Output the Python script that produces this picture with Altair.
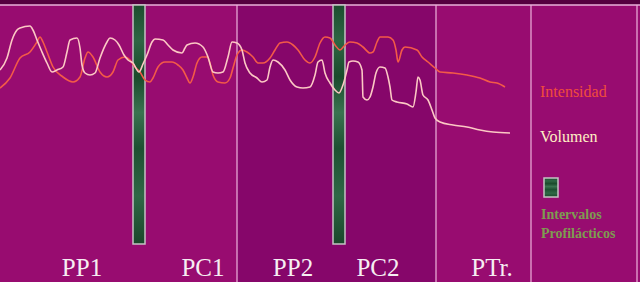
import altair as alt
import pandas as pd

# --- data ---
vol_x = [0, 7, 12, 17, 20, 30, 33, 37, 42, 47, 52, 57, 63, 67, 70, 77, 80, 82, 85, 90, 95, 100, 107, 110, 115, 119, 124, 128, 133, 139, 143, 147, 152, 155, 163, 168, 173, 182, 185, 187, 195, 203, 208, 213, 218, 223, 228, 232, 237, 242, 245, 250, 257, 262, 267, 270, 273, 278, 285, 290, 297, 303, 310, 315, 318, 322, 325, 330, 335, 339, 343, 347, 349, 353, 358, 362, 363, 367, 370, 373, 376, 380, 385, 388, 390, 392, 397, 407, 413, 416, 418, 420, 423, 428, 432, 435, 440, 453, 467, 480, 493, 510]
vol_y = [70, 58, 40, 30, 28, 26, 30, 40, 52, 63, 72, 70, 67, 52, 40, 38, 48, 65, 73, 75, 73, 58, 42, 38, 40, 45, 55, 60, 63, 72, 64, 55, 42, 39, 40, 45, 50, 53, 48, 45, 43, 47, 57, 72, 73, 72, 57, 42, 43, 50, 63, 73, 78, 82, 80, 67, 60, 62, 70, 80, 87, 88, 87, 75, 62, 60, 73, 83, 90, 93, 85, 70, 62, 61, 62, 70, 97, 100, 97, 87, 73, 67, 68, 77, 87, 100, 102, 104, 107, 92, 77, 80, 95, 100, 110, 118, 122, 125, 127, 130, 132, 133]

int_x = [0, 10, 20, 30, 37, 40, 43, 47, 53, 63, 73, 80, 85, 88, 93, 100, 107, 113, 118, 125, 130, 135, 140, 145, 150, 153, 158, 165, 172, 178, 183, 187, 190, 193, 197, 202, 207, 210, 213, 218, 225, 230, 233, 237, 242, 247, 253, 258, 263, 270, 275, 280, 287, 293, 298, 305, 310, 315, 320, 325, 330, 335, 340, 345, 350, 357, 363, 370, 373, 377, 380, 388, 393, 396, 398, 402, 405, 417, 422, 428, 435, 440, 453, 467, 480, 490, 497, 505]
int_y = [88, 78, 58, 52, 42, 37, 42, 52, 67, 77, 82, 77, 58, 52, 57, 72, 77, 72, 60, 57, 60, 67, 72, 80, 82, 78, 67, 62, 62, 65, 70, 78, 83, 77, 63, 57, 57, 63, 75, 82, 83, 78, 68, 55, 50, 52, 57, 63, 63, 58, 50, 43, 42, 45, 50, 60, 63, 57, 43, 37, 38, 45, 50, 45, 42, 43, 47, 53, 52, 42, 37, 37, 40, 50, 62, 50, 47, 50, 57, 62, 68, 72, 73, 75, 78, 82, 83, 87]

fases = ["PP1", "PC1", "PP2", "PC2", "PTr."]
fase_x = [82, 203, 293, 378, 492]
limites = [237, 436, 531, 637]
interv_ini = [133, 333]
interv_fin = [145, 345]

W, H = 640, 282
xs = alt.Scale(domain=[0, W], range=[0, W], nice=False, zero=False)
ys = alt.Scale(domain=[0, H], range=[0, H], nice=False, zero=False)

def X(f, **k):
    return alt.X(f, type="quantitative", scale=xs, axis=None, **k)

def Y(f, **k):
    return alt.Y(f, type="quantitative", scale=ys, axis=None, **k)

bg = pd.DataFrame({"x": [0, 237], "x2": [W, 436], "y": [5, 5], "y2": [H, H], "c": ["#980c70", "#86066a"]})
bg_layer = alt.Chart(bg).mark_rect().encode(
    x=X("x"), x2="x2", y=Y("y"), y2="y2",
    color=alt.Color("c:N", scale=None))

top = pd.DataFrame({"x": [0], "x2": [W], "y": [0], "y2": [5]})
top_layer = alt.Chart(top).mark_rect(color="#55003f").encode(x=X("x"), x2="x2", y=Y("y"), y2="y2")
top_line = alt.Chart(top).mark_rule(color="#eab0da", strokeWidth=1.5).encode(x=X("x"), x2="x2", y=Y("y2"))

lim = pd.DataFrame({"x": limites, "y": [5] * len(limites), "y2": [H] * len(limites)})
lim_layer = alt.Chart(lim).mark_rule(color="#eeb4dc", strokeWidth=1.2).encode(x=X("x"), y=Y("y"), y2="y2")

green = alt.Gradient(
    gradient="linear", x1=0, x2=0, y1=0, y2=1,
    stops=[alt.GradientStop(offset=0, color="#1c4d2e"),
           alt.GradientStop(offset=0.15, color="#2e6644"),
           alt.GradientStop(offset=0.3, color="#1a4a2b"),
           alt.GradientStop(offset=0.45, color="#3a7350"),
           alt.GradientStop(offset=0.6, color="#1d5031"),
           alt.GradientStop(offset=0.8, color="#2f6846"),
           alt.GradientStop(offset=1, color="#1a472a")])

bars = pd.DataFrame({"x": interv_ini, "x2": interv_fin, "y": [5, 5], "y2": [244, 244]})
bar_layer = alt.Chart(bars).mark_rect(fill=green, stroke="#c4c4c4", strokeWidth=1.5).encode(
    x=X("x"), x2="x2", y=Y("y"), y2="y2")

vol = pd.DataFrame({"x": vol_x, "y": vol_y, "o": range(len(vol_x))})
intens = pd.DataFrame({"x": int_x, "y": int_y, "o": range(len(int_x))})
vol_layer = alt.Chart(vol).mark_line(color="#fcc8c4", strokeWidth=1.6, interpolate="monotone").encode(
    x=X("x"), y=Y("y"), order="o:Q")
int_layer = alt.Chart(intens).mark_line(color="#f35a48", strokeWidth=1.6, interpolate="monotone").encode(
    x=X("x"), y=Y("y"), order="o:Q")

lab = pd.DataFrame({"x": fase_x, "y": [276] * len(fases), "t": fases})
lab_layer = alt.Chart(lab).mark_text(font="Liberation Serif", fontSize=25, color="#f6eef2",
                                     align="center", baseline="alphabetic").encode(
    x=X("x"), y=Y("y"), text="t:N")

leg_t = pd.DataFrame({"x": [540, 540], "y": [97, 142], "t": ["Intensidad", "Volumen"],
                      "c": ["#f04c3c", "#fff0c4"]})
leg_layer = alt.Chart(leg_t).mark_text(font="Liberation Serif", fontSize=16, align="left",
                                       baseline="alphabetic").encode(
    x=X("x"), y=Y("y"), text="t:N", color=alt.Color("c:N", scale=None))

leg_g = pd.DataFrame({"x": [541, 541], "y": [219, 238], "t": ["Intervalos", "Profilácticos"]})
leg_g_layer = alt.Chart(leg_g).mark_text(font="Liberation Serif", fontSize=14, fontWeight="bold",
                                         align="left", baseline="alphabetic", color="#7e9c50").encode(
    x=X("x"), y=Y("y"), text="t:N")

sq = pd.DataFrame({"x": [544], "x2": [558], "y": [178], "y2": [197]})
sq_layer = alt.Chart(sq).mark_rect(fill=green, stroke="#c4c4c4", strokeWidth=1.5).encode(
    x=X("x"), x2="x2", y=Y("y"), y2="y2")

chart = alt.layer(bg_layer, top_layer, lim_layer, top_line, bar_layer, int_layer, vol_layer,
                  lab_layer, leg_layer, leg_g_layer, sq_layer).properties(
    width=W, height=H, padding=0, autosize=alt.AutoSizeParams(type="none"),
    background="#980c70"
).configure_view(stroke=None)

chart.save("out.html", embed_options={"renderer": "svg", "actions": False})
